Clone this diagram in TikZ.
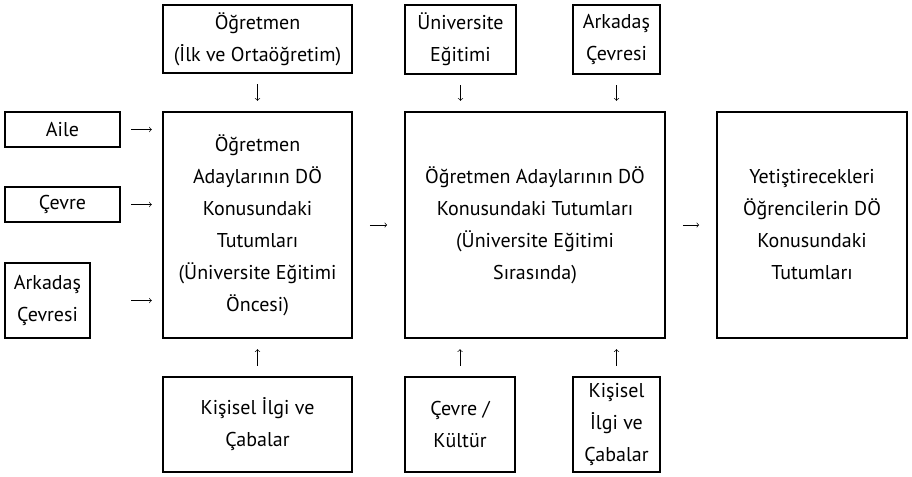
\documentclass[tikz,border=0pt]{standalone}
\usepackage{fontspec}
\setmainfont{PT Sans}
\begin{document}
\begin{tikzpicture}[x=0.75pt,y=-0.75pt,
  box/.style={draw, line width=0.8pt, align=center, inner sep=1pt,
    font=\fontsize{15pt}{24pt}\selectfont},
  arr/.style={draw, line width=0.5pt, ->, >=to, shorten <=#1, shorten >=#1},
  arr/.default=8pt]
\useasboundingbox (0,0) rectangle (912,476);

\node[box, minimum width=189*0.75pt, minimum height=68*0.75pt] (1) at (257.5,39) {Öğretmen\\(İlk ve Ortaöğretim)};
\node[box, minimum width=115*0.75pt, minimum height=35*0.75pt] (2) at (62.5,129.5) {Aile};
\node[box, minimum width=115*0.75pt, minimum height=35*0.75pt] (3) at (62.5,204.5) {Çevre};
\node[box, minimum width=85*0.75pt, minimum height=75*0.75pt] (4) at (47.5,300.5) {Arkadaş\\Çevresi};
\node[box, minimum width=189*0.75pt, minimum height=226*0.75pt] (5) at (257.5,225) {Öğretmen\\Adaylarının DÖ\\Konusundaki\\Tutumları\\(Üniversite Eğitimi\\Öncesi)};
\node[box, minimum width=111*0.75pt, minimum height=69*0.75pt] (6) at (460.5,39.5) {Üniversite\\Eğitimi};
\node[box, minimum width=87*0.75pt, minimum height=69*0.75pt] (7) at (616.5,39.5) {Arkadaş\\Çevresi};
\node[box, minimum width=260*0.75pt, minimum height=226*0.75pt] (8) at (535,225) {Öğretmen Adaylarının DÖ\\Konusundaki Tutumları\\(Üniversite Eğitimi\\Sırasında)};
\node[box, minimum width=190*0.75pt, minimum height=226*0.75pt] (9) at (812,225) {Yetiştirecekleri\\Öğrencilerin DÖ\\Konusundaki\\Tutumları};
\node[box, minimum width=189*0.75pt, minimum height=95*0.75pt] (10) at (257.5,424.5) {Kişisel İlgi ve\\Çabalar};
\node[box, minimum width=110*0.75pt, minimum height=95*0.75pt] (11) at (460,424.5) {Çevre /\\Kültür};
\node[box, minimum width=87*0.75pt, minimum height=95*0.75pt] (12) at (616.5,424.5) {Kişisel\\İlgi ve\\Çabalar};

\path[arr] (2.east) -- (2.east -| 5.west);
\path[arr] (3.east) -- (3.east -| 5.west);
\path[arr] (4 -| 2.east) -- (4 -| 5.west);
\path[arr=13pt] (5) -- (8);
\path[arr=13pt] (8) -- (9);
\path[arr] (1) -- (5);
\path[arr] (6.south) -- (6.south |- 8.north);
\path[arr] (7.south) -- (7.south |- 8.north);
\path[arr] (10) -- (5);
\path[arr] (11.north) -- (11.north |- 8.south);
\path[arr] (12.north) -- (12.north |- 8.south);
\end{tikzpicture}
\end{document}
